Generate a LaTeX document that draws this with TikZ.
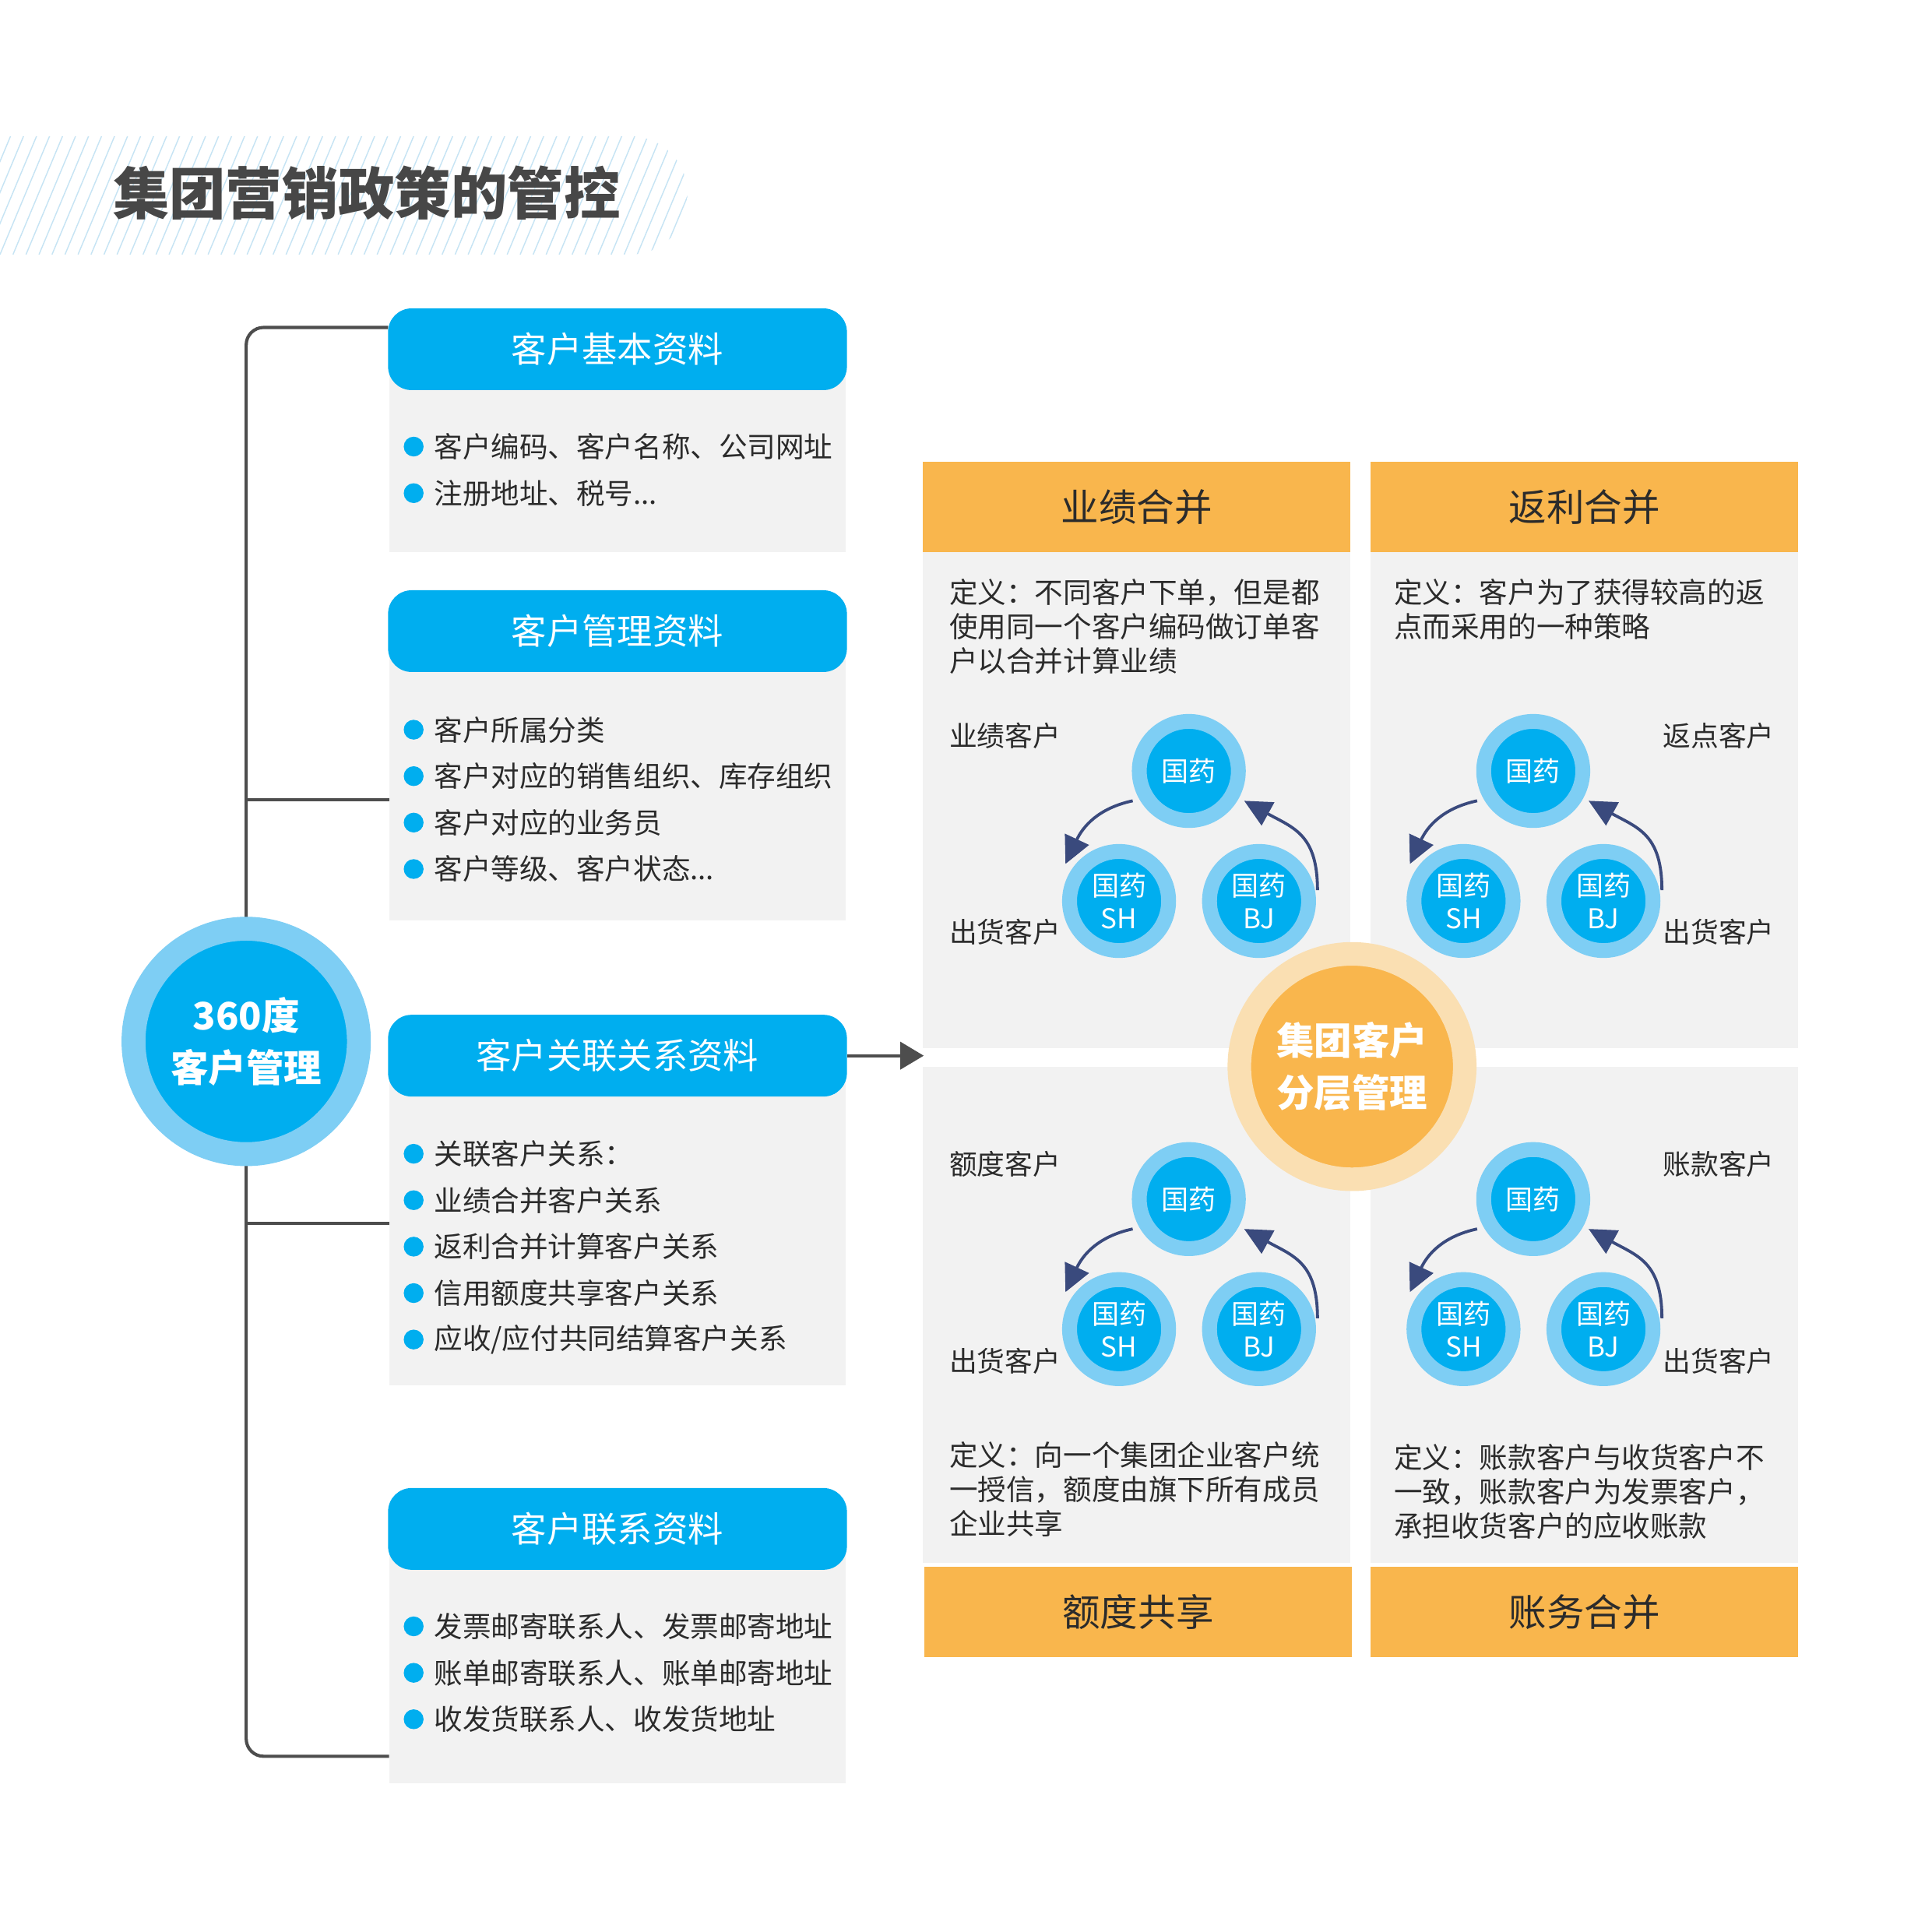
\documentclass[tikz,border=0pt]{standalone}
\usepackage{fontspec}
\newfontfamily\cjk{Noto Sans CJK SC}
\usetikzlibrary{arrows.meta}
\definecolor{cblue}{HTML}{00AEEF}
\definecolor{clblue}{HTML}{7ECEF4}
\definecolor{cgray}{HTML}{F2F2F2}
\definecolor{corange}{HTML}{F9B64D}
\definecolor{clorange}{HTML}{FADFB2}
\definecolor{cnavy}{HTML}{3A4A7D}
\definecolor{cline}{HTML}{4D4D4D}
\definecolor{ctext}{HTML}{2B2B2B}
\definecolor{ctitle}{HTML}{474747}
\definecolor{chatch}{HTML}{C6E4F4}
\newcommand\fsz[2]{\cjk\fontsize{#1}{#2}\selectfont}
\newcommand\tdots{...}
\begin{document}
\begin{tikzpicture}[x=1pt,y=-1pt,
  hdr/.style={rectangle, rounded corners=19pt, fill=cblue, text=white, minimum width=370.5pt, minimum height=66pt, inner sep=0pt, font=\fsz{28.5}{34}},
  bodybox/.style={fill=cgray},
  item/.style={anchor=west, inner sep=0pt, text=ctext, font=\fsz{23}{28}},
  dot/.style={circle, fill=cblue, minimum size=16pt, inner sep=0pt},
  conn/.style={draw=cline, line width=2.6pt},
  garrow/.style={draw=cline, line width=2.6pt, -{Triangle[length=19pt,width=22pt]}},
  quadhead/.style={rectangle, fill=corange, minimum width=345.1pt, minimum height=73.1pt, inner sep=0pt, text=ctext, font=\fsz{30.5}{36}},
  deftext/.style={anchor=west, align=left, inner sep=0pt, text=ctext, font=\fsz{23}{27.7}},
  lbl/.style={inner sep=0pt, text=ctext, font=\fsz{22.5}{27}},
  mini/.style={circle, minimum size=80pt, inner sep=0pt, fill=cblue, draw=clblue, line width=12pt, text=white, align=center, font=\fsz{22}{26.5}},
  bigcirc/.style={circle, minimum size=182pt, inner sep=0pt, line width=19.3pt, text=white, align=center, font=\fsz{30.5}{42}\bfseries},
  tarrow/.style={draw=cnavy, line width=2.4pt, -{Triangle[length=22pt,width=21pt]}},
  hatch/.style={draw=chatch, line width=0.9pt},
  title/.style={inner sep=0pt, text=ctitle, font=\fsz{45.5}{50}\bfseries}
]
\useasboundingbox (0,0) rectangle (1560,1560);
\fill[white] (0,0) rectangle (1560,1560);

% title band
\begin{scope}
  \clip[rounded corners=46pt] (-80,110) rectangle (555,205.5);
  \foreach \k in {-10,...,60} \draw[hatch] (\k*10.5,205.5) -- ++(40,-95.5);
\end{scope}
\node[title] (title) at (296,156) {集团营销政策的管控};

% tree connector
\coordinate (t1) at (313.3,264.4);
\coordinate (c1) at (198.8,264.4);
\coordinate (c4) at (198.8,1418.1);
\coordinate (t4) at (314.2,1418.1);
\coordinate (t2) at (314.2,645.5);
\coordinate (s2) at (198.8,645.5);
\coordinate (t3) at (314.2,987.9);
\coordinate (s3) at (198.8,987.9);
\draw[conn, rounded corners=14pt] (t1) -- (c1) -- (c4) -- (t4);
\draw[conn] (s2) -- (t2);
\draw[conn] (s3) -- (t3);

% left boxes: bodies
\fill[bodybox] (314.2,282) rectangle (682.9,445.8);
\fill[bodybox] (314.2,509.6) rectangle (682.9,743.2);
\fill[bodybox] (314.2,852.4) rectangle (682.9,1118.3);
\fill[bodybox] (314.2,1234.5) rectangle (682.9,1439.8);

% headers
\node[hdr] (h1) at (498.6,282) {客户基本资料};
\node[hdr] (h2) at (498.6,509.6) {客户管理资料};
\node[hdr] (h3) at (498.6,852.4) {客户关联关系资料};
\node[hdr] (h4) at (498.6,1234.5) {客户联系资料};

% items
\foreach [count=\i] \t in {客户编码、客户名称、公司网址, 注册地址、税号\tdots} {
  \node[dot] (d1-\i) at (334,360.6+37.6*\i-37.6) {};
  \node[item] (i1-\i) at (350.3,360.6+37.6*\i-37.6) {\t};
}
\foreach [count=\i] \t in {客户所属分类, 客户对应的销售组织、库存组织, 客户对应的业务员, 客户等级、客户状态\tdots} {
  \node[dot] (d2-\i) at (334,589.2+37.5*\i-37.5) {};
  \node[item] (i2-\i) at (350.3,589.2+37.5*\i-37.5) {\t};
}
\foreach [count=\i] \t in {关联客户关系：, 业绩合并客户关系, 返利合并计算客户关系, 信用额度共享客户关系, 应收/应付共同结算客户关系} {
  \node[dot] (d3-\i) at (334,931.6+37.5*\i-37.5) {};
  \node[item] (i3-\i) at (350.3,931.6+37.5*\i-37.5) {\t};
}
\foreach [count=\i] \t in {发票邮寄联系人、发票邮寄地址, 账单邮寄联系人、账单邮寄地址, 收发货联系人、收发货地址} {
  \node[dot] (d4-\i) at (334,1313.2+37.5*\i-37.5) {};
  \node[item] (i4-\i) at (350.3,1313.2+37.5*\i-37.5) {\t};
}

% 360 circle
\node[bigcirc, fill=cblue, draw=clblue] (c360) at (198.8,840.9) {360度\\客户管理};

% arrow to quadrants
\coordinate (qin) at (745.9,852.4);
\draw[garrow] (h3.east) -- (qin);

% quadrant bodies
\fill[bodybox] (745.2,445.9) rectangle (1090.3,846.3);
\fill[bodybox] (1106.6,445.9) rectangle (1452.1,846.3);
\fill[bodybox] (745.2,861.5) rectangle (1090.3,1261.7);
\fill[bodybox] (1106.6,861.5) rectangle (1452.1,1261.7);

% quadrant heads
\node[quadhead] (qa) at (917.75,409.35) {业绩合并};
\node[quadhead] (qb) at (1279.35,409.35) {返利合并};
\node[quadhead] (qc) at (918.95,1301.65) {额度共享};
\node[quadhead] (qd) at (1279.35,1301.65) {账务合并};

% definitions
\node[deftext] (dfa) at (766.4,505.9) {定义：不同客户下单，但是都\\使用同一个客户编码做订单客\\户以合并计算业绩};
\node[deftext] (dfb) at (1125.4,492.2) {定义：客户为了获得较高的返\\点而采用的一种策略};
\node[deftext] (dfc) at (766.4,1202.3) {定义：向一个集团企业客户统\\一授信，额度由旗下所有成员\\企业共享};
\node[deftext] (dfd) at (1125.4,1204.2) {定义：账款客户与收货客户不\\一致，账款客户为发票客户，\\承担收货客户的应收账款};

% labels
\node[lbl, anchor=west] (la1) at (766.4,594.2) {业绩客户};
\node[lbl, anchor=west] (la2) at (766.4,752.5) {出货客户};
\node[lbl, anchor=east] (lb1) at (1432.9,594.2) {返点客户};
\node[lbl, anchor=east] (lb2) at (1432.9,752.5) {出货客户};
\node[lbl, anchor=west] (lc1) at (766.4,940.2) {额度客户};
\node[lbl, anchor=west] (lc2) at (766.4,1099) {出货客户};
\node[lbl, anchor=east] (ld1) at (1432.9,940.2) {账款客户};
\node[lbl, anchor=east] (ld2) at (1432.9,1099) {出货客户};

% triads
\foreach \q/\tx/\ty in {a/959.9/622.5, b/1238/622.5, c/959.9/968.2, d/1238/968.2} {
  \node[mini] (\q0) at (\tx,\ty) {国药};
  \node[mini] (\q1) at (\tx-56.3,\ty+105) {国药\\SH};
  \node[mini] (\q2) at (\tx+56.7,\ty+105) {国药\\BJ};
  \coordinate (\q s1) at (\tx-45.3,\ty+24.1);
  \coordinate (\q e1) at (\tx-99.6,\ty+75.1);
  \coordinate (\q s2) at (\tx+103.9,\ty+96.3);
  \coordinate (\q e2) at (\tx+44.7,\ty+24.1);
  \draw[tarrow] (\q s1) .. controls +(-28,6) and +(14,-30) .. (\q e1);
  \draw[tarrow] (\q s2) .. controls +(0,-45) and +(40,22) .. (\q e2);
}

% center circle
\node[bigcirc, fill=corange, draw=clorange, line width=19pt] (cg) at (1091.7,861.2) {集团客户\\分层管理};
\end{tikzpicture}
\end{document}
